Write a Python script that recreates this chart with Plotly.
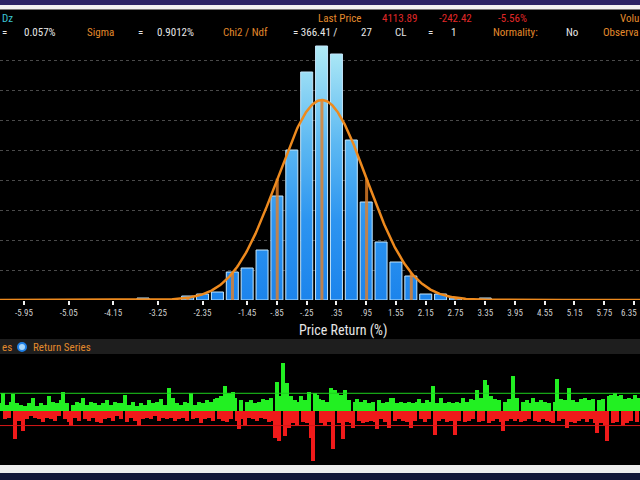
import numpy as np
import plotly.graph_objects as go

# ---------------- data ----------------
bin_centers = [-3.55, -3.25, -2.95, -2.65, -2.35, -2.05, -1.75, -1.45, -1.15, -0.85, -0.55, -0.25,
               0.05, 0.35, 0.65, 0.95, 1.25, 1.55, 1.85, 2.15, 2.45, 2.75, 3.05, 3.35]
bin_counts = [1, 0, 0, 2, 3, 4, 14, 16, 25, 52, 75, 114,
              127, 123, 80, 49, 29, 19, 12, 3, 3, 1, 0, 1]
bin_width = 0.3
mean_pct = 0.057
sigma_pct = 0.9012

tick_vals = [-5.95, -5.05, -4.15, -3.25, -2.35, -1.45, -0.85, -0.25, 0.35, 0.95, 1.55, 2.15,
             2.75, 3.35, 3.95, 4.55, 5.15, 5.75, 6.35]
tick_text = ["-5.95", "-5.05", "-4.15", "-3.25", "-2.35", "-1.45", "-.85", "-.25", ".35", ".95",
             "1.55", "2.15", "2.75", "3.35", "3.95", "4.55", "5.15", "5.75", "6.35"]

returns = [
    0.5, 1.2, -0.6, 0.4, -0.5, 0.6, 1.15, -2.0, 0.5, -0.7, 0.4, -1.45, 0.3, -0.6, 0.5, -0.4, 0.9, -0.5, 0.3, -0.6,
    0.5, -0.8, 0.4, -0.5, 1.0, -0.6, 0.6, -0.7, 0.5, -0.4, 0.7, 1.3, -0.6, 0.5, -0.8, -1.05, 0.4, -0.5, 0.6, -0.7,
    0.5, 0.9, -0.6, 0.4, -0.7, 0.6, -0.5, 0.5, -0.8, 0.4, -0.9, 0.5, -0.6, 0.7, -0.5, 0.4, -0.7, 0.6, -0.4, 0.5,
    -0.6, 0.5, 1.1, -0.8, 0.4, -0.5, 0.6, -0.7, 0.3, -1.1, 0.5, -0.6, 0.4, -0.5, 0.7, -0.6, 0.5, -0.4, 0.6, -0.7,
    0.8, -0.5, 0.4, -0.6, 1.6, -0.5, 0.9, -0.7, 0.5, -0.6, 0.4, -0.5, 0.6, -0.7, 0.5, 1.2, -0.6, 0.4, -0.5, 0.6,
    -0.9, 0.5, -0.6, 0.7, -0.5, 0.6, -0.7, 0.8, 0.9, -0.6, 1.0, -0.7, 1.7, -0.8, 1.2, -0.6, 1.3, 0.9, -0.7, -1.3,
    0.7, -0.6, -1.0, 0.6, -0.5, 0.7, -0.6, 0.5, -0.7, 0.6, -0.5, 0.8, -0.6, 0.7, -0.8, 0.9, -0.7, -1.9, 2.0, -2.1,
    1.0, 3.3, -1.8, 1.9, -1.2, 1.0, -0.9, 0.7, -1.0, 0.6, 1.0, -0.8, 0.7, -0.9, 1.3, -1.9, -3.5, 1.2, 1.1, 0.8,
    -0.9, 0.7, -1.1, 0.6, -0.8, 1.6, -2.7, 1.4, 1.2, -0.9, 1.1, -2.0, 1.4, -0.8, 0.7, -0.9, -1.2, 0.6, 0.8, -0.7,
    0.6, -0.9, 0.7, -0.8, 0.5, -0.7, 0.6, -0.8, -1.3, 0.7, -0.6, 0.5, -0.8, 0.6, -1.2, 0.9, 0.9, -0.7, 0.5, -0.6,
    0.6, -0.7, 0.5, -0.8, 0.6, -1.2, 0.5, -0.7, 0.6, 0.8, -0.6, 0.5, -0.8, 0.7, -0.6, 0.6, 1.7, -1.7, 0.5, -0.7,
    0.9, -0.6, 0.5, -0.8, 0.6, -0.7, 0.5, -1.7, 0.6, -0.7, 0.5, 0.9, -0.8, 0.6, -0.7, 0.8, -0.6, 0.7, 1.4, -0.8,
    0.9, -0.7, 2.1, 1.8, -0.9, 1.0, -0.7, 0.8, -0.6, 0.7, -0.8, -1.4, 0.6, -0.7, 0.8, -0.6, 2.4, -0.7, 0.9, -0.6,
    -0.8, 0.6, -0.7, 0.7, -0.6, 0.5, 0.9, -0.7, 0.6, -0.8, 0.7, -0.6, 0.6, -0.7, 0.5, -0.8, -0.9, 0.6, 2.2, -0.7,
    0.8, -0.6, 0.7, -1.2, 1.6, -0.8, 0.7, -0.9, 0.6, -0.7, 0.8, -0.6, 0.9, -0.8, 0.7, -0.6, 0.8, -0.9, -1.6, 0.7,
    -0.9, 0.8, -1.0, -2.1, 1.0, 1.1, -0.9, 1.2, -0.8, 1.0, 1.1, -1.0, 0.8, -0.9, 0.9, -0.7, 0.8, 1.1, -0.8, 0.9,
]
upper_band = 1.2
lower_band = -1.05

# ---------------- helpers ----------------
W, H = 640, 480
def py(p):
    return 1 - p / H
def px(p):
    return p / W

FONT = "Liberation Sans Narrow, Arial Narrow, Roboto Condensed, Roboto, Liberation Sans, Arial, sans-serif"
ORANGE = "#e38a2c"
WHITE = "#e6e6e6"
RED = "#e02828"
xr = (-6.434, 6.471)

fig = go.Figure()

# histogram bars as gradient-filled rectangles
bx, by = [], []
hw = 0.242 / 2
for c, n in zip(bin_centers, bin_counts):
    if n <= 0:
        continue
    bx += [c - hw, c - hw, c + hw, c + hw, c - hw, None]
    by += [0, n, n, 0, 0, None]
fig.add_trace(go.Scatter(
    x=bx, y=by, mode="lines", fill="toself",
    line=dict(color="#c4e6fb", width=1),
    fillgradient=dict(type="vertical", start=0, stop=130,
                      colorscale=[[0, "#1c84ec"], [0.3, "#2c94f0"], [0.6, "#5cb8f2"], [1, "#b6eef6"]]),
    hoverinfo="skip", showlegend=False, xaxis="x", yaxis="y"))

# fitted normal curve (from the header's mean / sigma)
N = sum(bin_counts)
amp = N * bin_width / (sigma_pct * np.sqrt(2 * np.pi))
cx = np.linspace(xr[0], xr[1], 800)
cy = amp * np.exp(-0.5 * ((cx - mean_pct) / sigma_pct) ** 2)

# sigma lines
for k in range(-3, 4):
    xv = mean_pct + k * sigma_pct
    yv = amp * np.exp(-0.5 * k ** 2)
    fig.add_trace(go.Scatter(x=[xv, xv], y=[0, yv], mode="lines",
                             line=dict(color="rgba(226,128,40,0.8)", width=3),
                             hoverinfo="skip", showlegend=False, xaxis="x", yaxis="y"))

fig.add_trace(go.Scatter(x=cx, y=cy, mode="lines", line=dict(color="#ee8a1e", width=2.5),
                         hoverinfo="skip", showlegend=False, xaxis="x", yaxis="y", cliponaxis=False))

# return series
idx = list(range(len(returns)))
colors = ["#22f022" if v >= 0 else "#f01a1a" for v in returns]
fig.add_trace(go.Bar(x=idx, y=returns, width=1.9, marker=dict(color=colors, line=dict(width=0)),
                     hoverinfo="skip", showlegend=False, xaxis="x2", yaxis="y2"))

shapes = [
    dict(type="rect", xref="paper", yref="paper", x0=0, x1=1, y0=py(5), y1=1,
         fillcolor="#2c2466", line=dict(width=0), layer="below"),
    dict(type="rect", xref="paper", yref="paper", x0=0, x1=1, y0=py(9.5), y1=py(5),
         fillcolor="#f2f2f2", line=dict(width=0), layer="below"),
    dict(type="rect", xref="paper", yref="paper", x0=0, x1=1, y0=py(354), y1=py(339),
         fillcolor="#1e1e1e", line=dict(width=0), layer="below"),
    dict(type="rect", xref="paper", yref="paper", x0=0, x1=1, y0=py(473), y1=py(465),
         fillcolor="#eeeeee", line=dict(width=0), layer="above"),
    dict(type="rect", xref="paper", yref="paper", x0=0, x1=1, y0=0, y1=py(473),
         fillcolor="#121838", line=dict(width=0), layer="above"),
    dict(type="line", xref="paper", yref="y2", x0=0, x1=1, y0=upper_band, y1=upper_band,
         line=dict(color="#1ed21e", width=1)),
    dict(type="line", xref="paper", yref="y2", x0=0, x1=1, y0=lower_band, y1=lower_band,
         line=dict(color="#d81818", width=1)),
    dict(type="circle", xref="paper", yref="paper", x0=px(18), x1=px(26), y0=py(351), y1=py(343),
         fillcolor="#a8d6f8", line=dict(color="#1f80e6", width=2)),
]

def txt(s, x, y, color, size=11, anchor="left"):
    return dict(text=s, x=px(x), y=py(y), xref="paper", yref="paper", xanchor=anchor,
                yanchor="middle", showarrow=False, font=dict(family=FONT, size=size, color=color))

annotations = [
    txt("Dz", 0, 19, "#3cc6d6"),
    txt("Last Price", 316, 19, ORANGE),
    txt("4113.89", 380, 19, RED),
    txt("-242.42", 437, 19, RED),
    txt("-5.56%", 496, 19, RED),
    txt("Volu", 618, 19, ORANGE),
    txt("=", 0, 33, WHITE),
    txt("0.057%", 22, 33, WHITE),
    txt("Sigma", 85, 33, ORANGE),
    txt("=", 136, 33, WHITE),
    txt("0.9012%", 155, 33, WHITE),
    txt("Chi2 / Ndf", 221, 33, ORANGE),
    txt("= 366.41 /", 291, 33, WHITE),
    txt("27", 359, 33, WHITE),
    txt("CL", 393, 33, WHITE),
    txt("=", 426, 33, WHITE),
    txt("1", 449, 33, WHITE),
    txt("Normality:", 491, 33, ORANGE),
    txt("No", 564, 33, WHITE),
    txt("Observa", 601, 33, ORANGE),
    txt("Price Return (%)", 343, 330, WHITE, size=14, anchor="center"),
    txt("es", 0, 347, ORANGE),
    txt("Return Series", 31, 347, ORANGE),
    txt(tick_text[-1], 639, 313, "#cfcfcf", size=9, anchor="right"),
]

fig.update_layout(
    width=W, height=H, margin=dict(l=0, r=0, t=0, b=0),
    paper_bgcolor="black", plot_bgcolor="black",
    barmode="overlay", bargap=0,
    shapes=shapes, annotations=annotations,
    xaxis=dict(domain=[0, 1], range=list(xr), anchor="y", tickvals=tick_vals, ticktext=tick_text,
               tickfont=dict(family=FONT, size=9, color="#cfcfcf"), ticks="outside", ticklen=4,
               tickwidth=2, tickcolor="#f0f0f0", showgrid=False, zeroline=False, showline=False),
    yaxis=dict(domain=[py(300), py(40)], range=[0, 130], anchor="x", showticklabels=False,
               showgrid=True, gridcolor="#4a4a4a", griddash="dot", gridwidth=1, dtick=15,
               zeroline=False, showline=False),
    xaxis2=dict(domain=[0, 1], range=[-0.5, len(returns) - 0.5], anchor="y2", visible=False),
    yaxis2=dict(domain=[py(465), py(356)], range=[-3.8, 3.8], anchor="x2", visible=False),
)

fig.write_html("out.html")
